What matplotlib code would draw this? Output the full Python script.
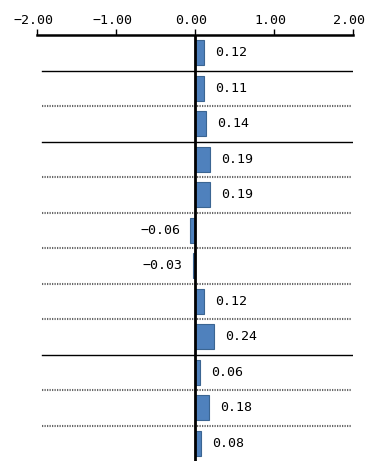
import matplotlib
matplotlib.use("Agg")
import matplotlib.pyplot as plt
import matplotlib.transforms as mtrans

plt.rcParams['font.family'] = ['DejaVu Sans Mono', 'Noto Sans CJK JP']

# bar values, top to bottom
values = [0.12, 0.11, 0.14, 0.19, 0.19, -0.06, -0.03, 0.12, 0.24, 0.06, 0.18, 0.08]
xticks = [-2.0, -1.0, 0.0, 1.0, 2.0]
# style of the line below each row (last row has none)
separators = ['solid', 'dotted', 'solid', 'dotted', 'dotted', 'dotted',
              'dotted', 'dotted', 'solid', 'dotted', 'dotted']

fig = plt.figure(figsize=(3.67, 4.61), dpi=100)
ax = fig.add_axes([37 / 367, 0.0, 316 / 367, 426 / 461])

rows = list(range(len(values)))
ax.barh(rows, values, height=0.7, color='#4F81BD', edgecolor='#3B6592', linewidth=0.8, zorder=2)

for y, v in zip(rows, values):
    txt = f"{v:.2f}".replace('-', '\u2212')
    if v >= 0:
        ax.annotate(txt, (v, y), xytext=(8, 0), textcoords='offset points',
                    ha='left', va='center', fontsize=9.5)
    else:
        ax.annotate(txt, (v, y), xytext=(-7, 0), textcoords='offset points',
                    ha='right', va='center', fontsize=9.5)

for i, st in enumerate(separators):
    if st == 'solid':
        ax.axhline(i + 0.5, xmin=0.017, xmax=0.997, color='black', lw=1.0, zorder=1)
    else:
        ax.axhline(i + 0.5, xmin=0.017, xmax=0.997, color='#666666', lw=1.5,
                   linestyle=(0, (0.6, 0.6)), zorder=1)

ax.axvline(0, color='black', lw=2, zorder=3)

ax.set_xlim(-2, 2)
ax.set_ylim(len(values) - 0.5, -0.5)
ax.xaxis.tick_top()
ax.set_xticks(xticks)
ax.set_xticklabels([f"{t:.2f}".replace('-', '\u2212') for t in xticks], fontsize=9.5)
ax.tick_params(axis='x', length=4, width=1, pad=2)
# labels sit a little left of their ticks, as in the original
shift = mtrans.ScaledTranslation(-4 / 100, 0, fig.dpi_scale_trans)
for lab in ax.get_xticklabels():
    lab.set_transform(lab.get_transform() + shift)
ax.set_yticks([])
for s in ['left', 'right', 'bottom']:
    ax.spines[s].set_visible(False)
ax.spines['top'].set_linewidth(1.8)

fig.savefig("out.png", dpi=100)
